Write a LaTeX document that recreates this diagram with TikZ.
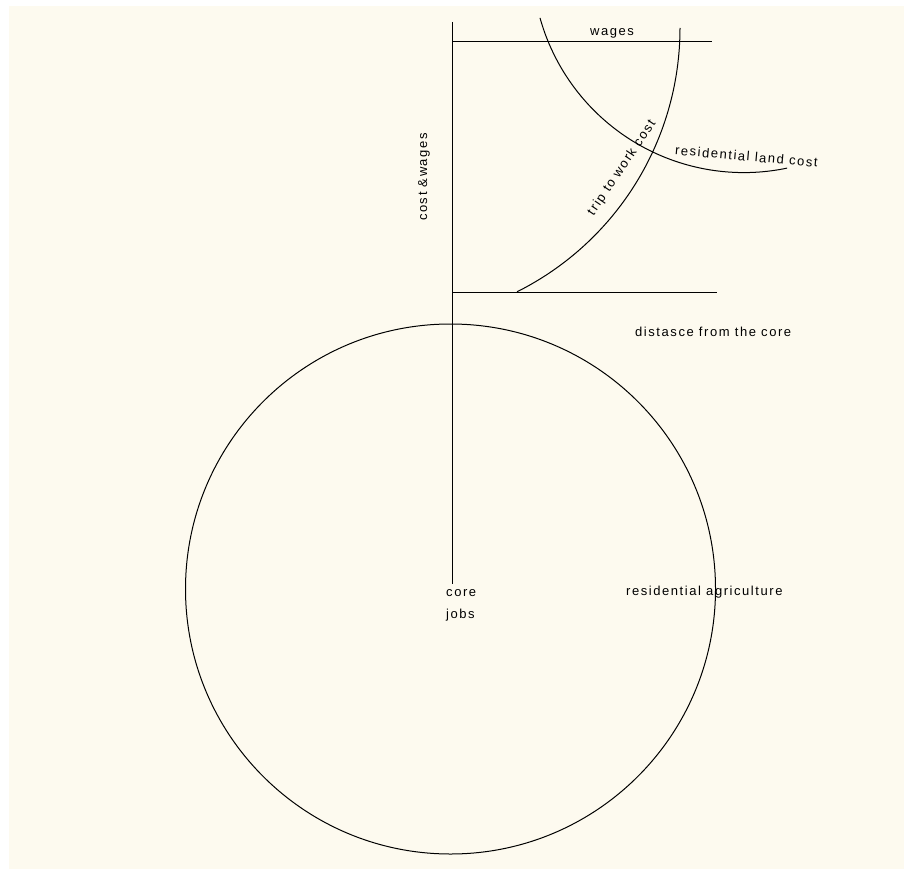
\documentclass[tikz,border=0pt]{standalone}
\usepackage{fontspec}
\setmainfont[LetterSpace=12]{Liberation Sans}
\definecolor{paper}{RGB}{253,250,239}
\begin{document}
\begin{tikzpicture}[x=1pt,y=-1pt,
  lbl/.style={inner sep=0pt,font=\fontsize{13}{15}\selectfont},
  ln/.style={line width=1pt,black}]
\fill[white] (0,0) rectangle (904,869);
\fill[paper] (9,6) rectangle (904,869);
\useasboundingbox (0,0) rectangle (904,869);
% axes
\coordinate (axtop) at (452,22);
\coordinate (axbot) at (452,584);
\coordinate (wl) at (452,42);
\coordinate (wr) at (712,42);
\coordinate (dl) at (452,292);
\coordinate (dr) at (717,292);
\draw[ln] (axtop) -- (axbot);
\draw[ln] (wl) -- (wr);
\draw[ln] (dl) -- (dr);
% circle
\draw[ln] (450.5,589) circle[radius=265];
% trip to work cost curve
\draw[ln] plot[domain=0:63.4,samples=80,smooth] ({385+295*cos(\x)},{28+295*sin(\x)});
% residential land cost curve
\draw[ln] plot[domain=78.2:164.4,samples=80,smooth] ({743.8+211.6*cos(\x)},{-39+211.6*sin(\x)});
% labels
\node[lbl] (wages) at (612,33) {wages};
\node[lbl,rotate=90] (costw) at (424,177) {cost \&wages};
\node[lbl,rotate=56] (trip) at (622,168) {trip to work cost};
\node[lbl,anchor=west,rotate=-5] (rland) at (675,150) {residential land cost};
\node[lbl,anchor=west] (dist) at (635,332) {distasce from the core};
\node[lbl,anchor=west] (core) at (446,593) {core};
\node[lbl,anchor=west] (jobs) at (446,615) {jobs};
\node[lbl,anchor=west] (ragri) at (626,592) {residential agriculture};
\end{tikzpicture}
\end{document}
